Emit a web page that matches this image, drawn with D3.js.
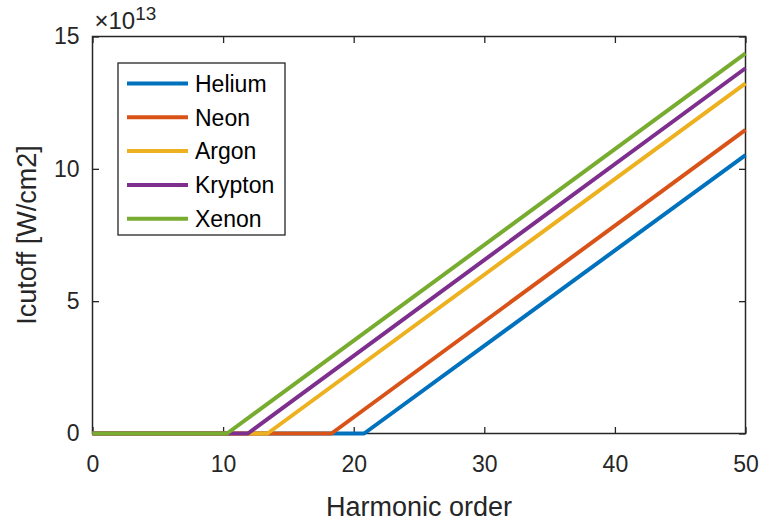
<!DOCTYPE html>
<html>
<head>
<meta charset="utf-8">
<script src="https://cdn.jsdelivr.net/npm/d3@7"></script>
<style>
  html, body { margin: 0; padding: 0; background: #fff; }
  svg { display: block; font-family: "Liberation Sans", Arial, Helvetica, sans-serif; }
</style>
</head>
<body>
<svg id="chart" width="763" height="523"></svg>
<script>
// ---- data ----
const gases = ["Helium", "Neon", "Argon", "Krypton", "Xenon"];
const colors = ["#0072BD", "#D95319", "#EDB120", "#7E2F8E", "#77AC30"];
// harmonic order where each curve leaves zero
const onsetOrder = [20.8, 18.3, 13.4, 11.9, 10.3];
// cutoff intensity at harmonic order 50 (in units of 1e13 W/cm2)
const valueAt50 = [10.52, 11.47, 13.23, 13.80, 14.36];
const xTicks = [0, 10, 20, 30, 40, 50];
const yTicks = [0, 5, 10, 15];
const yTickLabels = ["0", "5", "10", "15"];
const xLabel = "Harmonic order";
const yLabel = "Icutoff [W/cm2]";

const series = gases.map((g, i) => ({
  name: g,
  color: colors[i],
  points: [[0, 0], [onsetOrder[i], 0], [50, valueAt50[i] * 1e13]]
}));

// ---- layout ----
const svg = d3.select("#chart");
const L = 92.5, R = 745.5, T = 36.5, B = 433.5;
const x = d3.scaleLinear().domain([0, 50]).range([L, R]);
const y = d3.scaleLinear().domain([0, 15e13]).range([B, T]);
const axisColor = "#262626";
const tickLen = 6.5;

// axes (MATLAB box with inward ticks)
const xAxisB = d3.axisBottom(x).tickValues(xTicks).tickSizeInner(-tickLen).tickSizeOuter(0).tickPadding(22);
const xAxisT = d3.axisTop(x).tickValues(xTicks).tickSizeInner(-tickLen).tickSizeOuter(0).tickFormat("");
const yAxisL = d3.axisLeft(y).tickValues(yTicks.map(v => v * 1e13)).tickSizeInner(-tickLen).tickSizeOuter(0)
  .tickPadding(13).tickFormat((d, i) => yTickLabels[i]);
const yAxisR = d3.axisRight(y).tickValues(yTicks.map(v => v * 1e13)).tickSizeInner(-tickLen).tickSizeOuter(0).tickFormat("");

function style(g) {
  g.select(".domain").remove();
  g.selectAll(".tick line").attr("stroke", axisColor).attr("stroke-width", 1.3);
  g.selectAll(".tick text").attr("fill", "#262626").attr("font-size", 23)
    .attr("font-family", "'Liberation Sans', Arial, sans-serif");
}
svg.append("g").attr("transform", `translate(0,${B})`).call(xAxisB).call(style);
svg.append("g").attr("transform", `translate(0,${T})`).call(xAxisT).call(style);
svg.append("g").attr("transform", `translate(${L},0)`).call(yAxisL).call(style);
svg.append("g").attr("transform", `translate(${R},0)`).call(yAxisR).call(style);

// box
svg.append("rect")
  .attr("x", L).attr("y", T).attr("width", R - L).attr("height", B - T)
  .attr("fill", "none").attr("stroke", axisColor).attr("stroke-width", 1.5);

// lines (drawn over the axis box, as in the reference)
const line = d3.line().x(d => x(d[0])).y(d => y(d[1]));
const gLines = svg.append("g");
series.forEach(s => {
  gLines.append("path")
    .attr("d", line(s.points))
    .attr("fill", "none")
    .attr("stroke", s.color)
    .attr("stroke-width", 4)
    .attr("stroke-linejoin", "round");
});

// exponent label
const expo = svg.append("text").attr("x", L + 2).attr("y", 29)
  .attr("fill", "#262626").attr("font-size", 24);
expo.append("tspan").text("\u00d710");
expo.append("tspan").attr("font-size", 19).attr("dy", -9).text("13");

// axis labels
svg.append("text").attr("x", (L + R) / 2).attr("y", 516)
  .attr("text-anchor", "middle").attr("font-size", 27).attr("fill", "#262626")
  .text(xLabel);
svg.append("text")
  .attr("transform", `translate(36,${(T + B) / 2}) rotate(-90)`)
  .attr("text-anchor", "middle").attr("font-size", 27).attr("fill", "#262626")
  .text(yLabel);

// legend
const lg = svg.append("g");
const lgX = 118, lgY = 63, lgW = 167, lgH = 172;
lg.append("rect").attr("x", lgX).attr("y", lgY).attr("width", lgW).attr("height", lgH)
  .attr("fill", "#fff").attr("stroke", axisColor).attr("stroke-width", 1.3);
series.forEach((s, i) => {
  const cy = 83.5 + i * 33.8;
  lg.append("line").attr("x1", 127).attr("x2", 188).attr("y1", cy).attr("y2", cy)
    .attr("stroke", s.color).attr("stroke-width", 4);
  lg.append("text").attr("x", 195).attr("y", cy).attr("dy", "0.36em")
    .attr("font-size", 23).attr("fill", "#000").text(s.name);
});
</script>
</body>
</html>
